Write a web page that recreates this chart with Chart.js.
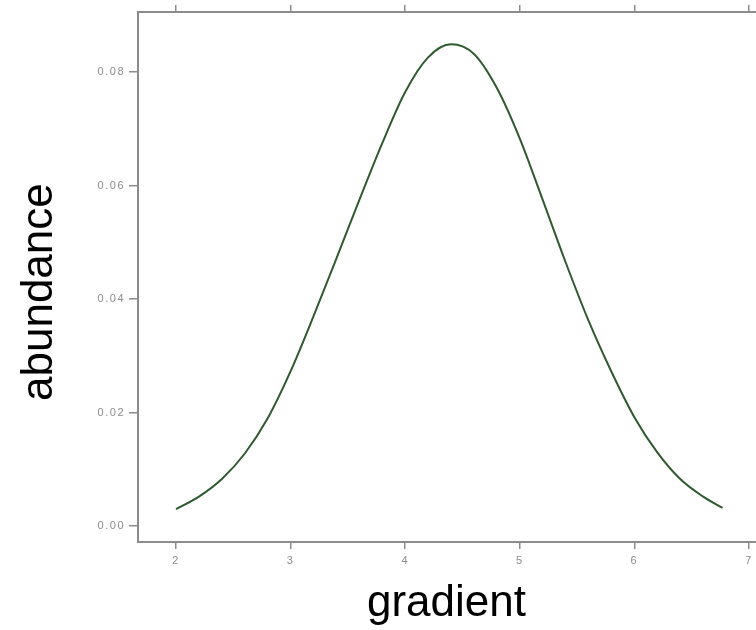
<!DOCTYPE html>
<html>
<head>
<meta charset="utf-8">
<script src="https://cdn.jsdelivr.net/npm/chart.js@4"></script>
<style>
  html, body { margin: 0; padding: 0; background: #fff; }
  #wrap { position: relative; width: 756px; height: 630px; overflow: hidden; background: #fff; }
  #curva { position: absolute; left: 0; top: 0; }
  .titulo { position: absolute; font-family: "Liberation Sans", Arial, sans-serif; font-size: 44px; line-height: 1; color: #000; white-space: nowrap; }
  #tituloX { left: 367px; top: 579px; }
  #tituloY { left: 15px; top: 401px; transform: rotate(-90deg); transform-origin: 0 0; }
</style>
</head>
<body>
<div id="wrap">
  <canvas id="curva" width="800" height="630"></canvas>
  <div class="titulo" id="tituloX">gradient</div>
  <div class="titulo" id="tituloY">abundance</div>
</div>
<script>
// Datos
const gradiente = [2.0, 2.2, 2.4, 2.6, 2.8, 3.0, 3.2, 3.4, 3.6, 3.8, 4.0, 4.2, 4.4,
  4.6, 4.8, 5.0, 5.2, 5.4, 5.6, 5.8, 6.0, 6.2, 6.4, 6.6, 6.77];
const abundancia = [0.0030, 0.0052, 0.0083, 0.0128, 0.0190, 0.0273, 0.0370, 0.0472, 0.0575, 0.0675, 0.0765, 0.0826, 0.0849,
  0.0832, 0.0772, 0.0683, 0.0575, 0.0465, 0.0362, 0.0272, 0.0192, 0.0130, 0.0083, 0.0052, 0.0032];
const ticksX = [2, 3, 4, 5, 6, 7];
const ticksY = [0.00, 0.02, 0.04, 0.06, 0.08];

const gris = '#8c8c8c';

function fijarTicks(lista) {
  return scale => { scale.ticks = lista.map(v => ({ value: v })); };
}

// etiquetas de los ejes un poco espaciadas, como en el original
const espaciado = {
  id: 'espaciado',
  beforeDraw(chart) { chart.ctx.letterSpacing = '1.5px'; }
};

function renderCurva() {
  const ctx = document.getElementById('curva').getContext('2d');
  new Chart(ctx, {
    type: 'line',
    data: {
      datasets: [{
        data: gradiente.map((g, i) => ({ x: g, y: abundancia[i] })),
        borderColor: '#2f5a2f',
        borderWidth: 2,
        pointRadius: 0,
        fill: false,
        cubicInterpolationMode: 'monotone'
      }]
    },
    options: {
      responsive: false,
      animation: false,
      layout: { padding: { left: 0, right: 13, top: 0, bottom: 0 } },
      plugins: { legend: { display: false }, tooltip: { enabled: false } },
      scales: {
        x: {
          type: 'linear',
          position: 'bottom',
          min: 1.668,
          max: 7.332,
          afterBuildTicks: fijarTicks(ticksX),
          afterFit: s => { s.height = 88; },
          grid: { drawOnChartArea: false, drawTicks: true, tickLength: 7, color: gris, lineWidth: 1.5 },
          border: { color: gris, width: 2 },
          ticks: { color: gris, padding: 5, font: { family: 'Liberation Sans', size: 11 }, callback: v => String(v) }
        },
        xTop: {
          type: 'linear',
          position: 'top',
          min: 1.668,
          max: 7.332,
          afterBuildTicks: fijarTicks(ticksX),
          afterFit: s => { s.height = 12; },
          grid: { drawOnChartArea: false, drawTicks: true, tickLength: 7, color: gris, lineWidth: 1.5 },
          border: { color: gris, width: 2 },
          ticks: { display: false }
        },
        y: {
          type: 'linear',
          position: 'left',
          min: -0.0028,
          max: 0.0906,
          afterBuildTicks: fijarTicks(ticksY),
          afterFit: s => { s.width = 138; },
          grid: { drawOnChartArea: false, drawTicks: true, tickLength: 9, color: gris, lineWidth: 1.5 },
          border: { color: gris, width: 2 },
          ticks: { color: gris, padding: 4, font: { family: 'Liberation Sans', size: 11 }, callback: v => v.toFixed(2) }
        }
      }
    },
    plugins: [espaciado]
  });
}

renderCurva();
</script>
</body>
</html>
